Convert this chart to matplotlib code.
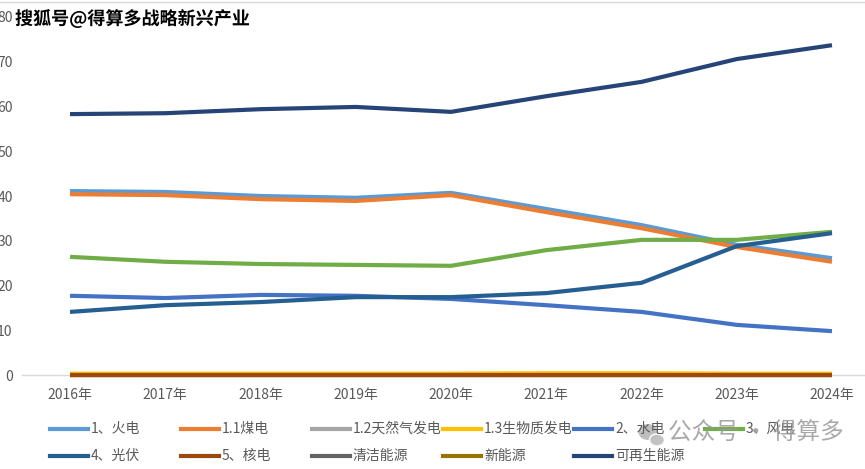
import numpy as np
import matplotlib.pyplot as plt
from matplotlib.lines import Line2D
from matplotlib.patches import Ellipse
import matplotlib.patheffects as pe

plt.rcParams['font.family'] = ['Noto Sans CJK SC', 'DejaVu Sans']

years = ['2016年', '2017年', '2018年', '2019年', '2020年', '2021年', '2022年', '2023年', '2024年']

# share of generation, %
huodian    = [41.1, 40.9, 40.0, 39.6, 40.7, 37.1, 33.5, 29.1, 26.1]
meidian    = [40.4, 40.2, 39.3, 38.9, 40.2, 36.4, 32.8, 28.6, 25.3]
tianranqi  = [0.1, 0.1, 0.1, 0.1, 0.1, 0.1, 0.1, 0.1, 0.1]
shengwuzhi = [0.3, 0.3, 0.3, 0.3, 0.3, 0.4, 0.4, 0.3, 0.3]
shuidian   = [17.7, 17.2, 17.9, 17.7, 17.0, 15.6, 14.1, 11.2, 9.8]
fengdian   = [26.4, 25.3, 24.8, 24.6, 24.4, 27.9, 30.2, 30.2, 32.0]
guangfu    = [14.1, 15.6, 16.3, 17.4, 17.4, 18.3, 20.6, 28.8, 31.7]
hedian     = [0.0, 0.0, 0.0, 0.0, 0.0, 0.0, 0.0, 0.0, 0.0]
qingjie    = [0.0, 0.0, 0.0, 0.0, 0.0, 0.0, 0.0, 0.0, 0.0]
xinnengyuan = [0.0, 0.0, 0.0, 0.0, 0.0, 0.0, 0.0, 0.0, 0.0]
kezaisheng = [58.3, 58.5, 59.4, 59.9, 58.8, 62.3, 65.5, 70.6, 73.7]

names = ['1、火电', '1.1煤电', '1.2天然气发电', '1.3生物质发电', '2、水电', '3、风电',
         '4、光伏', '5、核电', '清洁能源', '新能源', '可再生能源']
series = [huodian, meidian, tianranqi, shengwuzhi, shuidian, fengdian,
          guangfu, hedian, qingjie, xinnengyuan, kezaisheng]
colors = ['#5B9BD5', '#ED7D31', '#A5A5A5', '#FFC000', '#4472C4', '#70AD47',
          '#255E91', '#9E480E', '#636363', '#997300', '#264478']
zords = [3, 3, 2, 2, 3, 3, 3, 4, 1, 1, 3]

W, H = 865, 469
fig = plt.figure(figsize=(W / 100, H / 100), dpi=100)
ax = fig.add_axes([22.4 / W, (H - 375) / H, 857.2 / W, 358 / H])

x = np.arange(len(years))
for s, c, z in zip(series, colors, zords):
    ax.plot(x, s, color=c, lw=3, solid_capstyle='butt', zorder=z, clip_on=False)

ax.set_xlim(-0.5, len(years) - 0.5)
ax.set_ylim(0, 80)
ax.set_yticks(range(0, 81, 10))
ax.set_xticks(x)
ax.set_xticklabels(years)
ax.tick_params(axis='both', length=0, labelsize=10, labelcolor='#595959')
ax.tick_params(axis='x', pad=9)
ax.tick_params(axis='y', pad=7)
for sp in ['top', 'left', 'right']:
    ax.spines[sp].set_visible(False)
ax.spines['bottom'].set_color('#D9D9D9')
ax.spines['bottom'].set_linewidth(1)
ax.spines['bottom'].set_zorder(0)

# legend drawn like the excel one: fixed column slots
for i, (n, c) in enumerate(zip(names, colors)):
    col, row = i % 6, i // 6
    x0 = 50 + col * 131
    yy = 429 + row * 27
    fig.add_artist(Line2D([x0 / W, (x0 + 38) / W], [1 - yy / H, 1 - yy / H],
                          color=c, lw=3, transform=fig.transFigure))
    fig.text((x0 + 41) / W, 1 - yy / H, n, fontsize=10, color='#595959',
             va='center', ha='left')

# watermarks
t = fig.text(15 / W, 1 - 19 / H, '搜狐号@得算多战略新兴产业', fontsize=13,
             fontweight='bold', color='black', va='center', ha='left')
t.set_path_effects([pe.withStroke(linewidth=3, foreground='white')])

fig.add_artist(Ellipse((648 / W, 1 - 432 / H), 19 / W, 16 / H, transform=fig.transFigure,
                       facecolor='#A8A8A8', edgecolor='none', alpha=0.75))
fig.add_artist(Ellipse((657 / W, 1 - 440 / H), 15 / W, 12 / H, transform=fig.transFigure,
                       facecolor='#BDBDBD', edgecolor='white', lw=1.2, alpha=0.9))
fig.text(668 / W, 1 - 433 / H, '公众号 · 得算多', fontsize=17, color='#9A9A9A',
         alpha=0.85, va='center', ha='left')

fig.add_artist(Line2D([0, 1], [1 - 2 / H, 1 - 2 / H], color='#D9D9D9', lw=1,
                      transform=fig.transFigure))

fig.savefig('out.png', dpi=100)
